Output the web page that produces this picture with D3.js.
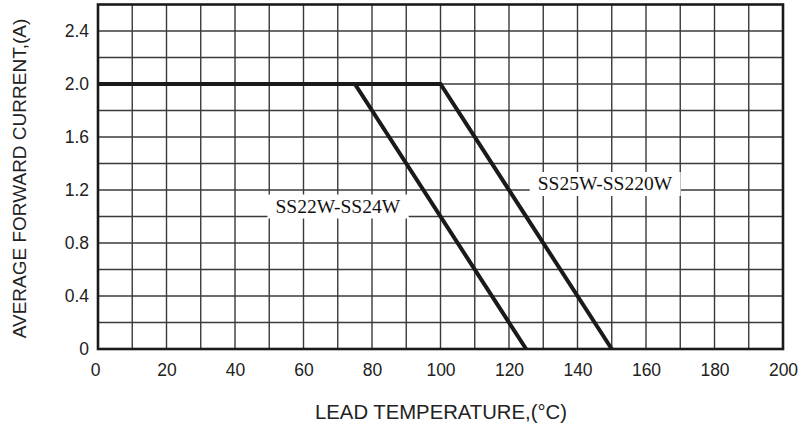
<!DOCTYPE html>
<html><head><meta charset="utf-8">
<script src="https://cdn.jsdelivr.net/npm/d3@7"></script>
<style>body{margin:0;background:#fff}</style>
</head><body>
<svg id="c" width="806" height="430"></svg>
<script>
const xTicks = [0,20,40,60,80,100,120,140,160,180,200];
const yTicks = [0,0.4,0.8,1.2,1.6,2.0,2.4];
const yTickLabels = ["0","0.4","0.8","1.2","1.6","2.0","2.4"];
const seriesNames = ["SS22W-SS24W","SS25W-SS220W"];
const seriesA = [{t:0,i:2.0},{t:75,i:2.0},{t:125,i:0}];
const seriesB = [{t:0,i:2.0},{t:100,i:2.0},{t:150,i:0}];
const labelPos = [{t:70,i:1.03},{t:148,i:1.2}];

const svg = d3.select("#c");
const L=98, R=783, T=4.5, B=349;
const x = d3.scaleLinear().domain([0,200]).range([L,R]);
const y = d3.scaleLinear().domain([0,2.6]).range([B,T]);

const g = svg.append("g");
// grid
g.selectAll(".vg").data(d3.range(10,200,10)).join("line")
 .attr("x1",d=>x(d)).attr("x2",d=>x(d)).attr("y1",T).attr("y2",B)
 .attr("stroke","#3a3a3a").attr("stroke-width",1.4);
g.selectAll(".hg").data(d3.range(1,13).map(d=>d*0.2)).join("line")
 .attr("y1",d=>y(d)).attr("y2",d=>y(d)).attr("x1",L).attr("x2",R)
 .attr("stroke","#3a3a3a").attr("stroke-width",1.4);

// labels backgrounds + text
const labels = [seriesNames[0], seriesNames[1]];
labels.forEach((name,k)=>{
  const p = labelPos[k];
  const t = svg.append("text").attr("x",x(p.t)).attr("y",y(p.i))
    .attr("text-anchor","middle").attr("font-family","'Liberation Serif','Times New Roman',serif")
    .attr("font-size",19.5).attr("fill","#111").text(name);
  const bb = t.node().getBBox();
  svg.insert("rect", "text").attr("x",bb.x-8).attr("y",bb.y-1).attr("width",bb.width+16).attr("height",bb.height+3).attr("fill","#fff");
});

// lines
const line = d3.line().x(d=>x(d.t)).y(d=>y(d.i));
[seriesA,seriesB].forEach(s=>{
  svg.append("path").datum(s).attr("d",line).attr("fill","none")
   .attr("stroke","#1a1a1a").attr("stroke-width",4).attr("stroke-linejoin","miter");
});

// border
svg.append("rect").attr("x",L).attr("y",T).attr("width",R-L).attr("height",B-T)
 .attr("fill","none").attr("stroke","#1a1a1a").attr("stroke-width",2.6);

// axes
const xAxis = d3.axisBottom(x).tickValues(xTicks).tickSize(0).tickPadding(0);
const xa = svg.append("g").attr("transform",`translate(0,${B+21})`).call(xAxis);
xa.select(".domain").remove();
xa.selectAll("text").attr("font-family","'Liberation Sans',Arial,sans-serif").attr("font-size",17.5)
  .attr("fill","#222").attr("dy","0.35em");
xa.selectAll("text").filter(d=>d===0).attr("dx",-3);

const yAxis = d3.axisLeft(y).tickValues(yTicks).tickFormat((d,i)=>yTickLabels[i]).tickSize(0).tickPadding(0);
const ya = svg.append("g").attr("transform",`translate(${L-9},0)`).call(yAxis);
ya.select(".domain").remove();
ya.selectAll("text").attr("font-family","'Liberation Sans',Arial,sans-serif").attr("font-size",17.5).attr("fill","#222");

svg.append("text").attr("x",441).attr("y",419).attr("text-anchor","middle")
 .attr("font-family","'Liberation Sans',Arial,sans-serif").attr("font-size",20.3).attr("fill","#222")
 .text("LEAD TEMPERATURE,(°C)");
svg.append("text").attr("transform",`translate(25.5,178.5) rotate(-90)`).attr("text-anchor","middle")
 .attr("font-family","'Liberation Sans',Arial,sans-serif").attr("font-size",19).attr("fill","#222")
 .text("AVERAGE FORWARD CURRENT,(A)");
</script>
</body></html>
